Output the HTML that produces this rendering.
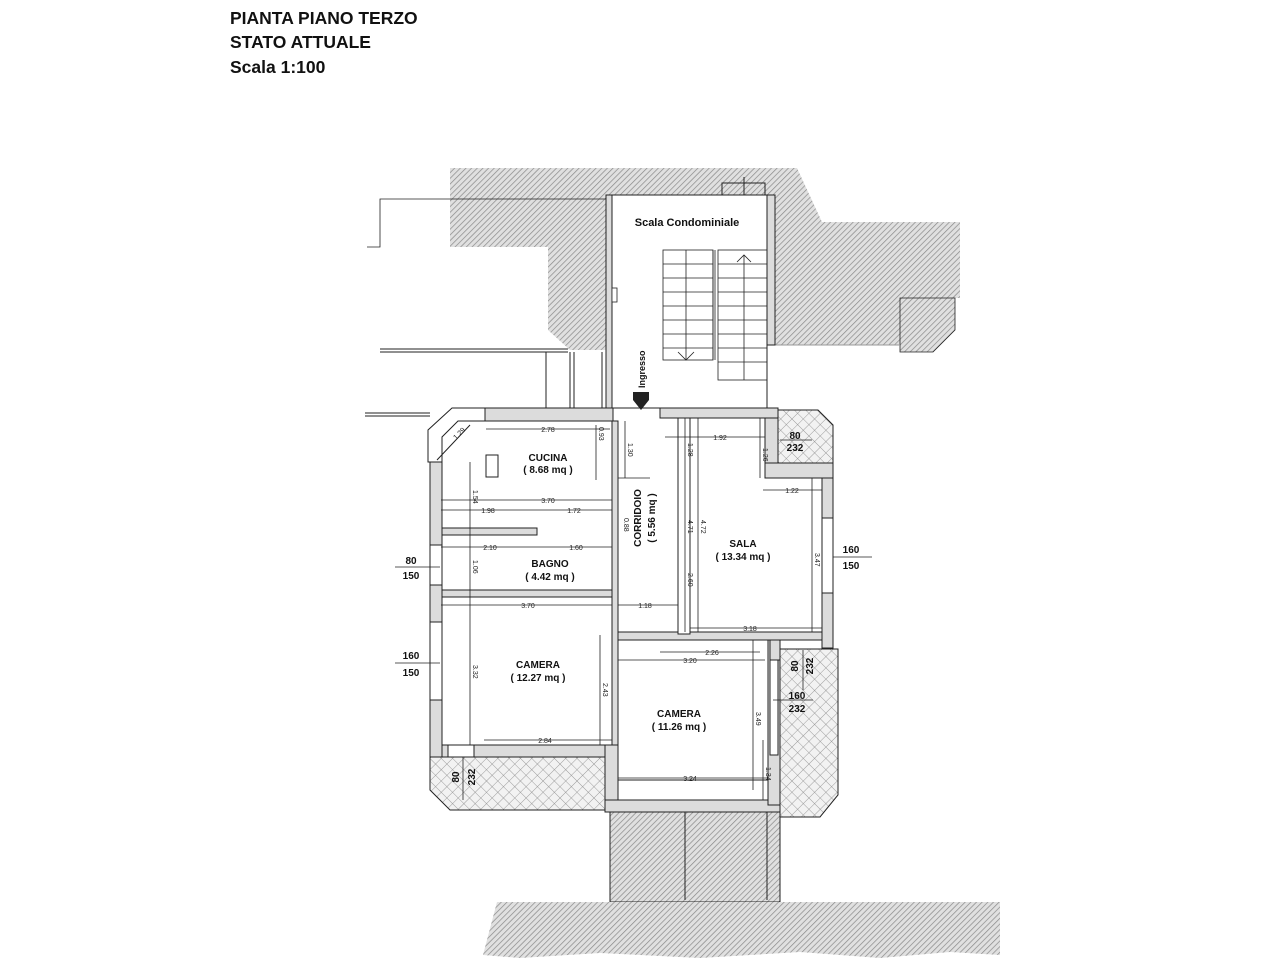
<!DOCTYPE html>
<html><head><meta charset="utf-8"><style>
html,body{margin:0;padding:0;background:#fff;width:1280px;height:960px;overflow:hidden}
svg{display:block}
.t{font-family:"Liberation Sans",sans-serif;font-weight:bold;fill:#111}
.d{font-family:"Liberation Sans",sans-serif;font-size:7px;fill:#222}
.w{fill:#dcdcdc;stroke:#222;stroke-width:1}
.l{stroke:#222;stroke-width:0.8;fill:none}
</style></head><body>
<svg width="1280" height="960" viewBox="0 0 1280 960" xmlns="http://www.w3.org/2000/svg">
<defs>
<pattern id="h" width="4" height="4" patternUnits="userSpaceOnUse" patternTransform="rotate(45)">
<rect width="4" height="4" fill="#e0e0e0"/><line x1="0" y1="0" x2="0" y2="4" stroke="#888" stroke-width="1.4"/></pattern>
<pattern id="x" width="8" height="8" patternUnits="userSpaceOnUse" patternTransform="rotate(45)">
<rect width="8" height="8" fill="#f2f2f2"/><line x1="0" y1="0" x2="0" y2="8" stroke="#888" stroke-width="0.8"/><line x1="0" y1="0" x2="8" y2="0" stroke="#888" stroke-width="0.8"/></pattern>
</defs>

<text class="t" x="230" y="24" font-size="17.5">PIANTA PIANO TERZO</text>
<text class="t" x="230" y="48" font-size="17.5">STATO ATTUALE</text>
<text class="t" x="230" y="73" font-size="17.5">Scala 1:100</text>

<!-- top hatch -->
<path d="M450,168 L797,168 L822,222 L960,222 L960,298 L955,298 L955,330 L933,352 L900,352 L900,345 L775,345 L775,195 L767,195 L767,408 L612,408 L612,195 L606,195 L606,350 L570,350 L548,330 L548,247 L450,247 Z" fill="url(#h)"/>
<path d="M900,298 L955,298 L955,330 L933,352 L900,352 Z" class="l"/>
<line x1="775" y1="345" x2="900" y2="345" stroke="#999" stroke-width="1"/>
<rect x="606" y="195" width="6" height="215" class="w"/>
<rect x="767" y="195" width="8" height="150" class="w"/>
<rect x="722" y="183" width="43" height="12" fill="none" stroke="#222"/>
<line x1="744" y1="177" x2="744" y2="195" stroke="#222"/>
<rect x="612" y="195" width="155" height="213" fill="#fff" stroke="#222"/>
<text class="t" x="687" y="226" font-size="11" text-anchor="middle">Scala Condominiale</text>
<rect x="612" y="288" width="5" height="14" fill="#fff" stroke="#222" stroke-width="0.8"/>
<!-- stairs -->
<g class="l">
<rect x="663" y="250" width="50" height="110"/>
<rect x="718" y="250" width="49" height="130"/>
<line x1="713" y1="250" x2="713" y2="360"/><line x1="715" y1="250" x2="715" y2="360"/>
<line x1="686" y1="250" x2="686" y2="360"/>
<line x1="744" y1="255" x2="744" y2="380"/>
</g>
<g stroke="#222" stroke-width="0.8">
<line x1="663" y1="264" x2="713" y2="264"/><line x1="663" y1="278" x2="713" y2="278"/><line x1="663" y1="292" x2="713" y2="292"/><line x1="663" y1="306" x2="713" y2="306"/><line x1="663" y1="320" x2="713" y2="320"/><line x1="663" y1="334" x2="713" y2="334"/><line x1="663" y1="348" x2="713" y2="348"/>
<line x1="718" y1="264" x2="767" y2="264"/><line x1="718" y1="278" x2="767" y2="278"/><line x1="718" y1="292" x2="767" y2="292"/><line x1="718" y1="306" x2="767" y2="306"/><line x1="718" y1="320" x2="767" y2="320"/><line x1="718" y1="334" x2="767" y2="334"/><line x1="718" y1="348" x2="767" y2="348"/><line x1="718" y1="362" x2="767" y2="362"/>
<polyline points="737,262 744,255 751,262" fill="none"/><polyline points="678,352 686,360 694,352" fill="none"/>
</g>
<!-- left outline -->
<polyline points="367,247 380,247 380,199 606,199" class="l"/>
<line x1="380" y1="349" x2="568" y2="349" stroke="#222"/><line x1="380" y1="352" x2="568" y2="352" stroke="#222"/>
<line x1="546" y1="352" x2="546" y2="408" stroke="#222"/><line x1="570" y1="352" x2="570" y2="408" stroke="#222"/><line x1="574" y1="352" x2="574" y2="408" stroke="#222"/>
<line x1="602" y1="352" x2="602" y2="408" stroke="#222"/>
<line x1="365" y1="413" x2="430" y2="413" stroke="#222"/><line x1="365" y1="416" x2="430" y2="416" stroke="#222"/>
<text class="t" font-size="9" transform="translate(645,388) rotate(-90)">Ingresso</text>
<rect x="633" y="392" width="16" height="8" fill="#222"/>
<polygon points="633,400 649,400 641,410" fill="#222"/>

<!-- balconies -->
<path d="M430,757 L605,757 L605,810 L450,810 L430,790 Z" fill="url(#x)" stroke="#222"/>
<path d="M778,410 L818,410 L833,425 L833,463 L778,463 Z" fill="url(#x)" stroke="#222"/>
<path d="M780,649 L838,649 L838,795 L820,817 L780,817 Z" fill="url(#x)" stroke="#222"/>

<!-- walls -->
<path d="M428,462 L428,430 L452,408 L485,408 L485,421 L458,421 L442,437 L442,462 Z" fill="#fff" stroke="#222"/>
<rect x="485" y="408" width="128" height="13" class="w"/>
<rect x="660" y="408" width="118" height="10" class="w"/>
<rect x="430" y="462" width="12" height="295" class="w"/>
<rect x="430" y="545" width="12" height="40" fill="#fff" stroke="#222"/>
<rect x="430" y="622" width="12" height="78" fill="#fff" stroke="#222"/>
<rect x="612" y="421" width="6" height="390" class="w"/>
<rect x="442" y="528" width="95" height="7" class="w"/>
<rect x="442" y="590" width="170" height="7" class="w"/>
<rect x="442" y="745" width="170" height="12" class="w"/>
<rect x="605" y="745" width="13" height="67" class="w"/>
<rect x="605" y="800" width="175" height="12" class="w"/>
<rect x="618" y="632" width="210" height="8" class="w"/>
<rect x="678" y="418" width="12" height="216" fill="#fff" stroke="#222"/>
<rect x="765" y="463" width="68" height="15" class="w"/>
<rect x="822" y="478" width="11" height="170" class="w"/>
<rect x="822" y="518" width="11" height="75" fill="#fff" stroke="#222"/>
<rect x="765" y="418" width="13" height="45" class="w"/>
<rect x="768" y="640" width="12" height="165" class="w"/>
<rect x="770" y="660" width="8" height="95" fill="#fff" stroke="#222"/>
<rect x="770" y="640" width="10" height="20" class="w"/>
<rect x="448" y="745" width="26" height="12" fill="#fff" stroke="#222"/>
<rect x="618" y="640" width="150" height="140" fill="#fff" stroke="#222"/>

<!-- bottom hatch -->
<rect x="610" y="812" width="170" height="90" fill="url(#h)" stroke="#222"/>
<line x1="685" y1="812" x2="685" y2="900" stroke="#222"/><line x1="767" y1="812" x2="767" y2="900" stroke="#222"/>
<path d="M497,902 L1000,902 L1000,955 L950,952 L880,958 L800,952 L700,958 L600,953 L520,958 L483,955 Z" fill="url(#h)"/>

<!-- dims -->
<g class="l">
<line x1="486" y1="429" x2="610" y2="429"/><line x1="596" y1="425" x2="596" y2="480"/>
<line x1="441" y1="500" x2="612" y2="500"/><line x1="441" y1="510" x2="612" y2="510"/>
<line x1="441" y1="547" x2="612" y2="547"/><line x1="441" y1="605" x2="612" y2="605"/>
<line x1="618" y1="605" x2="678" y2="605"/><line x1="470" y1="462" x2="470" y2="745"/>
<line x1="484" y1="740" x2="612" y2="740"/><line x1="600" y1="635" x2="600" y2="745"/>
<line x1="625" y1="421" x2="625" y2="478"/><line x1="618" y1="478" x2="650" y2="478"/>
<line x1="685" y1="418" x2="685" y2="632"/><line x1="698" y1="418" x2="698" y2="632"/>
<line x1="665" y1="437" x2="765" y2="437"/><line x1="760" y1="418" x2="760" y2="478"/>
<line x1="763" y1="490" x2="822" y2="490"/><line x1="812" y1="478" x2="812" y2="632"/>
<line x1="690" y1="628" x2="822" y2="628"/><line x1="660" y1="652" x2="760" y2="652"/>
<line x1="618" y1="660" x2="765" y2="660"/><line x1="753" y1="640" x2="753" y2="790"/>
<line x1="618" y1="778" x2="768" y2="778"/><line x1="763" y1="740" x2="763" y2="800"/>
<line x1="395" y1="567" x2="440" y2="567"/><line x1="395" y1="663" x2="440" y2="663"/>
<line x1="833" y1="557" x2="872" y2="557"/><line x1="780" y1="440" x2="812" y2="440"/>
<line x1="773" y1="700" x2="813" y2="700"/><line x1="803" y1="650" x2="803" y2="690"/>
<line x1="463" y1="757" x2="463" y2="800"/>
</g>
<rect x="486" y="455" width="12" height="22" fill="#fff" stroke="#222"/>
<line x1="437" y1="460" x2="470" y2="425" stroke="#222"/>
<g class="d">
<text x="548" y="432" text-anchor="middle">2.78</text><text x="548" y="503" text-anchor="middle">3.70</text>
<text x="488" y="513" text-anchor="middle">1.98</text><text x="574" y="513" text-anchor="middle">1.72</text>
<text x="490" y="550" text-anchor="middle">2.10</text><text x="576" y="550" text-anchor="middle">1.60</text>
<text x="528" y="608" text-anchor="middle">3.70</text><text x="645" y="608" text-anchor="middle">1.18</text>
<text x="545" y="743" text-anchor="middle">2.84</text><text x="720" y="440" text-anchor="middle">1.92</text>
<text x="792" y="493" text-anchor="middle">1.22</text><text x="750" y="631" text-anchor="middle">3.18</text>
<text x="712" y="655" text-anchor="middle">2.26</text><text x="690" y="663" text-anchor="middle">3.20</text>
<text x="690" y="781" text-anchor="middle">3.24</text>
<text transform="translate(473,490) rotate(90)">1.54</text><text transform="translate(473,560) rotate(90)">1.06</text>
<text transform="translate(473,665) rotate(90)">3.32</text><text transform="translate(603,683) rotate(90)">2.43</text>
<text transform="translate(628,443) rotate(90)">1.30</text><text transform="translate(688,520) rotate(90)">4.71</text>
<text transform="translate(701,520) rotate(90)">4.72</text><text transform="translate(688,573) rotate(90)">2.60</text>
<text transform="translate(815,553) rotate(90)">3.47</text><text transform="translate(756,712) rotate(90)">3.49</text>
<text transform="translate(763,448) rotate(90)">1.26</text><text transform="translate(688,443) rotate(90)">1.28</text>
<text transform="translate(456,440) rotate(-45)">1.29</text><text transform="translate(599,427) rotate(90)">0.93</text>
<text transform="translate(624,518) rotate(90)">0.88</text><text transform="translate(766,767) rotate(90)">1.34</text>
</g>
<!-- room labels -->
<g class="t" font-size="10" text-anchor="middle">
<text x="548" y="461">CUCINA</text><text x="548" y="473">( 8.68 mq )</text>
<text x="550" y="567">BAGNO</text><text x="550" y="580">( 4.42 mq )</text>
<text x="538" y="668">CAMERA</text><text x="538" y="681">( 12.27 mq )</text>
<text x="743" y="547">SALA</text><text x="743" y="560">( 13.34 mq )</text>
<text x="679" y="717">CAMERA</text><text x="679" y="730">( 11.26 mq )</text>
<text transform="translate(641,518) rotate(-90)">CORRIDOIO</text>
<text transform="translate(655,518) rotate(-90)">( 5.56 mq )</text>
</g>
<g class="t" font-size="10" text-anchor="middle">
<text x="411" y="564">80</text><text x="411" y="579">150</text>
<text x="411" y="659">160</text><text x="411" y="676">150</text>
<text x="851" y="553">160</text><text x="851" y="569">150</text>
<text x="795" y="439">80</text><text x="795" y="451">232</text>
<text x="797" y="699">160</text><text x="797" y="712">232</text>
<text transform="translate(798,666) rotate(-90)">80</text><text transform="translate(813,666) rotate(-90)">232</text>
<text transform="translate(459,777) rotate(-90)">80</text><text transform="translate(475,777) rotate(-90)">232</text>
</g>
</svg>
</body></html>
